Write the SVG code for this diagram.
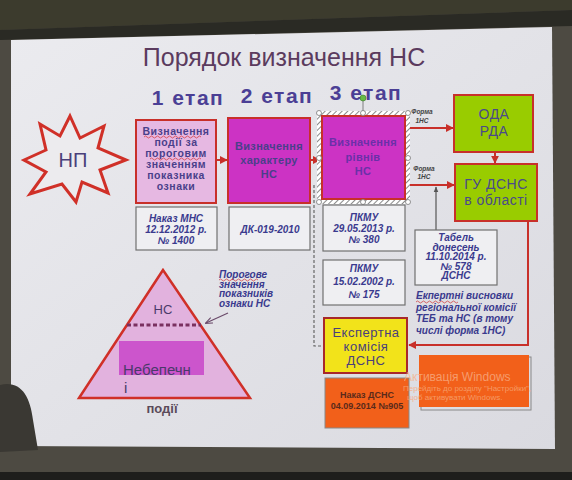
<svg xmlns="http://www.w3.org/2000/svg" width="572" height="480" viewBox="0 0 572 480">
<defs>
<linearGradient id="slideG" x1="0" y1="0" x2="1" y2="1">
<stop offset="0" stop-color="#ebebef"/>
<stop offset="1" stop-color="#dadae0"/>
</linearGradient>
<pattern id="hatch" width="4" height="4" patternUnits="userSpaceOnUse" patternTransform="rotate(45)">
<rect width="4" height="4" fill="#ffffff"/>
<line x1="0" y1="0" x2="0" y2="4" stroke="#8a8a8a" stroke-width="2"/>
</pattern>
<marker id="ar" viewBox="0 0 10 10" refX="9" refY="5" markerWidth="4" markerHeight="4" orient="auto">
<path d="M0,0 L10,5 L0,10 z" fill="#c8302a"/>
</marker>
<marker id="ag" viewBox="0 0 10 10" refX="9" refY="5" markerWidth="5" markerHeight="5" orient="auto">
<path d="M0,1 L10,5 L0,9 z" fill="#555"/>
</marker>
<marker id="ap" viewBox="0 0 10 10" refX="9" refY="5" markerWidth="6" markerHeight="6" orient="auto">
<path d="M0,1 L10,5 L0,9" fill="none" stroke="#6a4a6a" stroke-width="1.5"/>
</marker>
<style>
.t{font-family:"Liberation Sans",Arial,sans-serif;}
.stage{font-size:21px;font-weight:bold;fill:#4b3f95;letter-spacing:1.5px;}
.bx{stroke:#c8302a;stroke-width:2;}
.doc{fill:#efeff2;stroke:#707070;stroke-width:1.2;}
.bt{font-size:10.5px;font-weight:bold;fill:#4a3f8a;letter-spacing:0.5px;}
.bt2{font-size:11px;font-weight:bold;fill:#4a3f8a;letter-spacing:0.3px;}
.gt{font-size:14px;fill:#4a4a8a;letter-spacing:0.5px;}
.it{font-size:10px;font-weight:bold;font-style:italic;fill:#3a3a8e;}
.fm{font-size:6.5px;font-weight:bold;font-style:italic;fill:#444;}
.cn{stroke:#c8302a;stroke-width:2;fill:none;}
.hd{fill:#ffffff;stroke:#777;stroke-width:0.8;}
.wm{font-size:8px;fill:#f7a878;opacity:0.8;}
</style>
</defs>
<!-- photo surroundings -->
<rect x="0" y="0" width="572" height="480" fill="#4d4a42"/>
<polygon points="0,0 572,0 572,10 0,30" fill="#3c3b2d"/>
<polygon points="0,30 572,10 572,26 0,40" fill="#2a2a24"/>
<rect x="0" y="472" width="572" height="8" fill="#1e1e1c"/>
<!-- slide -->
<polygon points="11,40 552,27 555,449 11,446" fill="url(#slideG)"/>
<path d="M0,385 C20,380 30,395 33,420 L38,450 L0,452 z" fill="#3a3833"/>
<text class="t" x="284" y="66" text-anchor="middle" font-size="25" fill="#5b3b5e">Порядок визначення НС</text>
<text class="t stage" x="188" y="105" text-anchor="middle">1 етап</text>
<text class="t stage" x="277" y="103" text-anchor="middle">2 етап</text>
<text class="t stage" x="366" y="100" text-anchor="middle">3 етап</text>
<!-- NP star -->
<g id="np">
<polygon points="70,116 80,138 104,126 98,148 126,160 100,170 108,193 82,182 76,202 62,184 30,194 46,172 24,160 46,150 40,124 60,136" fill="#ecebee" stroke="#d03028" stroke-width="3" stroke-linejoin="miter"/>
<text class="t" x="73" y="167" text-anchor="middle" font-size="20" fill="#4a3f7a">НП</text>
</g>
<!-- connectors -->
<g id="connectors">
<line class="cn" x1="216" y1="160" x2="227" y2="160" marker-end="url(#ar)"/>
<line class="cn" x1="310" y1="160" x2="320" y2="160" marker-end="url(#ar)"/>
<line class="cn" x1="408" y1="128" x2="453" y2="128" marker-end="url(#ar)"/>
<line class="cn" x1="408" y1="185" x2="454" y2="185" marker-end="url(#ar)"/>
<line class="cn" x1="495" y1="152" x2="495" y2="163" marker-end="url(#ar)"/>
<polyline class="cn" points="528,221 528,345 409,345" marker-end="url(#ar)"/>
<line x1="436" y1="230" x2="436" y2="187" stroke="#555" stroke-width="1.2" marker-end="url(#ag)"/>
<polyline points="314,185 314,346 324,346" fill="none" stroke="#666" stroke-width="1.2" stroke-dasharray="3,2"/>
<line x1="228" y1="313" x2="206" y2="323" stroke="#6a4a6a" stroke-width="1.2" marker-end="url(#ap)"/>
</g>
<text class="t fm" x="422" y="114" text-anchor="middle">Форма</text>
<text class="t fm" x="422" y="123" text-anchor="middle">1НС</text>
<text class="t fm" x="424" y="171" text-anchor="middle">Форма</text>
<text class="t fm" x="424" y="179" text-anchor="middle">1НС</text>
<!-- box 1 -->
<g id="box1">
<rect class="bx" x="136" y="120" width="80" height="83" fill="#e6b8e2"/>
<text class="t bt" x="176" y="135" text-anchor="middle">Визначення</text>
<text class="t bt" x="176" y="146" text-anchor="middle">події за</text>
<text class="t bt" x="176" y="157" text-anchor="middle">пороговим</text>
<text class="t bt" x="176" y="168" text-anchor="middle">значенням</text>
<text class="t bt" x="176" y="179" text-anchor="middle">показника</text>
<text class="t bt" x="176" y="190" text-anchor="middle">ознаки</text>
<path d="M144,137 q1.5,-2 3,0 t3,0 t3,0 t3,0 t3,0 t3,0 t3,0 t3,0 t3,0 t3,0 t3,0 t3,0 t3,0 t3,0 t3,0 t3,0 t3,0 t3,0 t3,0" fill="none" stroke="#d03030" stroke-width="0.7"/>
<path d="M150,159 q1.5,-2 3,0 t3,0 t3,0 t3,0 t3,0 t3,0 t3,0 t3,0 t3,0 t3,0 t3,0 t3,0 t3,0 t3,0 t3,0 t3,0 t3,0" fill="none" stroke="#d03030" stroke-width="0.7"/>
</g>
<!-- box 2 -->
<g id="box2">
<rect class="bx" x="228" y="118" width="82" height="85" fill="#cc33c4"/>
<text class="t bt2" x="269" y="150" text-anchor="middle">Визначення</text>
<text class="t bt2" x="269" y="164" text-anchor="middle">характеру</text>
<text class="t bt2" x="269" y="178" text-anchor="middle">НС</text>
</g>
<!-- box 3 (selected) -->
<g id="box3">
<rect x="319.5" y="113.5" width="88" height="88" fill="none" stroke="url(#hatch)" stroke-width="5"/>
<rect class="bx" x="322" y="116" width="83" height="83" fill="#cc33c4"/>
<text class="t bt2" x="363" y="146" style="fill:#6a30a8" text-anchor="middle">Визначення</text>
<text class="t bt2" x="363" y="161" style="fill:#6a30a8" text-anchor="middle">рівнів</text>
<text class="t bt2" x="363" y="175" style="fill:#6a30a8" text-anchor="middle">НС</text>
<line x1="363" y1="111" x2="363" y2="99" stroke="#666" stroke-width="0.8"/>
<circle cx="363" cy="98" r="3" fill="#66bb44" stroke="#3a7a2a" stroke-width="0.6"/>
<circle class="hd" cx="319" cy="113" r="2.5"/>
<circle class="hd" cx="363" cy="113" r="2.5"/>
<circle class="hd" cx="408" cy="113" r="2.5"/>
<circle class="hd" cx="319" cy="158" r="2.5"/>
<circle class="hd" cx="408" cy="158" r="2.5"/>
<circle class="hd" cx="319" cy="202" r="2.5"/>
<circle class="hd" cx="363" cy="202" r="2.5"/>
<circle class="hd" cx="408" cy="202" r="2.5"/>
</g>
<!-- ODA RDA -->
<g id="oda">
<rect class="bx" x="454" y="95" width="79" height="57" fill="#99cc00"/>
<text class="t gt" x="494" y="119" text-anchor="middle">ОДА</text>
<text class="t gt" x="494" y="136" text-anchor="middle">РДА</text>
</g>
<!-- GU DSNS -->
<g id="gu">
<rect class="bx" x="455" y="164" width="82" height="57" fill="#99cc00"/>
<text class="t gt" x="496" y="189" text-anchor="middle">ГУ ДСНС</text>
<text class="t gt" x="496" y="205" text-anchor="middle">в області</text>
</g>
<!-- doc boxes -->
<g id="nakaz-mns">
<rect class="doc" x="136" y="207" width="81" height="43"/>
<text class="t it" x="176" y="222" text-anchor="middle">Наказ МНС</text>
<text class="t it" x="176" y="233" text-anchor="middle">12.12.2012 р.</text>
<text class="t it" x="176" y="244" text-anchor="middle">№ 1400</text>
</g>
<g id="dk">
<rect class="doc" x="229" y="207" width="81" height="43"/>
<text class="t it" x="270" y="233" text-anchor="middle" font-size="11">ДК-019-2010</text>
</g>
<g id="pkmu1">
<rect class="doc" x="323" y="205" width="82" height="46"/>
<text class="t it" x="364" y="221" text-anchor="middle">ПКМУ</text>
<text class="t it" x="364" y="232" text-anchor="middle">29.05.2013 р.</text>
<text class="t it" x="364" y="243" text-anchor="middle">№ 380</text>
</g>
<g id="pkmu2">
<rect class="doc" x="323" y="260" width="82" height="45"/>
<text class="t it" x="364" y="272" text-anchor="middle">ПКМУ</text>
<text class="t it" x="364" y="285" text-anchor="middle">15.02.2002 р.</text>
<text class="t it" x="364" y="298" text-anchor="middle">№ 175</text>
</g>
<g id="tabel">
<rect class="doc" x="415" y="230" width="82" height="55"/>
<text class="t it" x="456" y="241" text-anchor="middle" font-size="9">Табель</text>
<text class="t it" x="456" y="250.5" text-anchor="middle" font-size="9">донесень</text>
<text class="t it" x="456" y="260" text-anchor="middle" font-size="9">11.10.2014 р.</text>
<text class="t it" x="456" y="269.5" text-anchor="middle" font-size="9">№ 578</text>
<text class="t it" x="456" y="279" text-anchor="middle" font-size="9">ДСНС</text>
</g>
<g id="vysnovky">
<text class="t it" x="416" y="299" font-size="10.5">Екпертні висновки</text>
<text class="t it" x="416" y="310.5" font-size="10.5">регіональної комісії</text>
<text class="t it" x="416" y="322" font-size="10.5">ТЕБ та НС (в тому</text>
<text class="t it" x="416" y="334" font-size="10.5">числі форма 1НС)</text>
<path d="M416,302 q1.5,-2 3,0 t3,0 t3,0 t3,0 t3,0 t3,0 t3,0 t3,0 t3,0 t3,0 t3,0 t3,0 t3,0 t3,0" fill="none" stroke="#d03030" stroke-width="0.7"/>
</g>
<!-- expert commission -->
<g id="expert">
<rect x="324" y="318" width="83" height="55" fill="#f2e31a" stroke="#a8282a" stroke-width="2"/>
<text class="t gt" x="366" y="337" text-anchor="middle" font-size="13" style="fill:#4a3f7a;font-size:13px">Експертна</text>
<text class="t gt" x="366" y="351" text-anchor="middle" style="fill:#4a3f7a;font-size:13px">комісія</text>
<text class="t gt" x="366" y="365" text-anchor="middle" style="fill:#4a3f7a;font-size:13px">ДСНС</text>
</g>
<g id="nakaz-dsns">
<rect x="325" y="378" width="84" height="50" fill="#f2601a" stroke="#888" stroke-width="1"/>
<text class="t" x="367" y="398" text-anchor="middle" font-size="9" font-weight="bold" fill="#5a2a1a">Наказ ДСНС</text>
<text class="t" x="367" y="409" text-anchor="middle" font-size="9" font-weight="bold" fill="#5a2a1a">04.09.2014  №905</text>
</g>
<g id="orange2">
<rect x="421" y="357" width="110" height="53" fill="none" stroke="#888" stroke-width="1"/>
<rect x="419" y="355" width="110" height="52" fill="#f2601a"/>
</g>
<text class="t" x="404" y="381" font-size="12" fill="#f7b088" opacity="0.75">Активація Windows</text>
<text class="t wm" x="403" y="391">Перейдіть до розділу "Настройки",</text>
<text class="t wm" x="407" y="400">щоб активувати Windows.</text>
<!-- triangle -->
<g id="triangle">
<polygon points="163,270 79,398 250,398" fill="#e2b2de" stroke="#d03028" stroke-width="2.5" stroke-linejoin="miter"/>
<rect x="119" y="341" width="85" height="34" fill="#cc55cc"/>
<line x1="127" y1="325" x2="201" y2="325" stroke="#7a3060" stroke-width="3" stroke-dasharray="4,2.5"/>
<text class="t" x="163" y="314" text-anchor="middle" font-size="13" fill="#4a3a6a">НС</text>
<text class="t" x="123" y="375" font-size="15" fill="#4a3a6a">Небепечн</text>
<text class="t" x="124" y="393" font-size="15" fill="#4a3a6a">і</text>
<text class="t" x="162" y="413" text-anchor="middle" font-size="13" font-weight="bold" fill="#5a4a5a">події</text>
</g>
<g id="porog">
<text class="t it" x="219" y="278" font-size="8.5">Порогове</text>
<text class="t it" x="219" y="287.5" font-size="8.5">значення</text>
<text class="t it" x="219" y="297" font-size="8.5">показників</text>
<text class="t it" x="219" y="306.5" font-size="8.5">ознаки НС</text>
<path d="M219,280 q1.5,-2 3,0 t3,0 t3,0 t3,0 t3,0 t3,0 t3,0 t3,0 t3,0 t3,0 t3,0 t3,0 t3,0" fill="none" stroke="#d03030" stroke-width="0.7"/>
</g>
</svg>
